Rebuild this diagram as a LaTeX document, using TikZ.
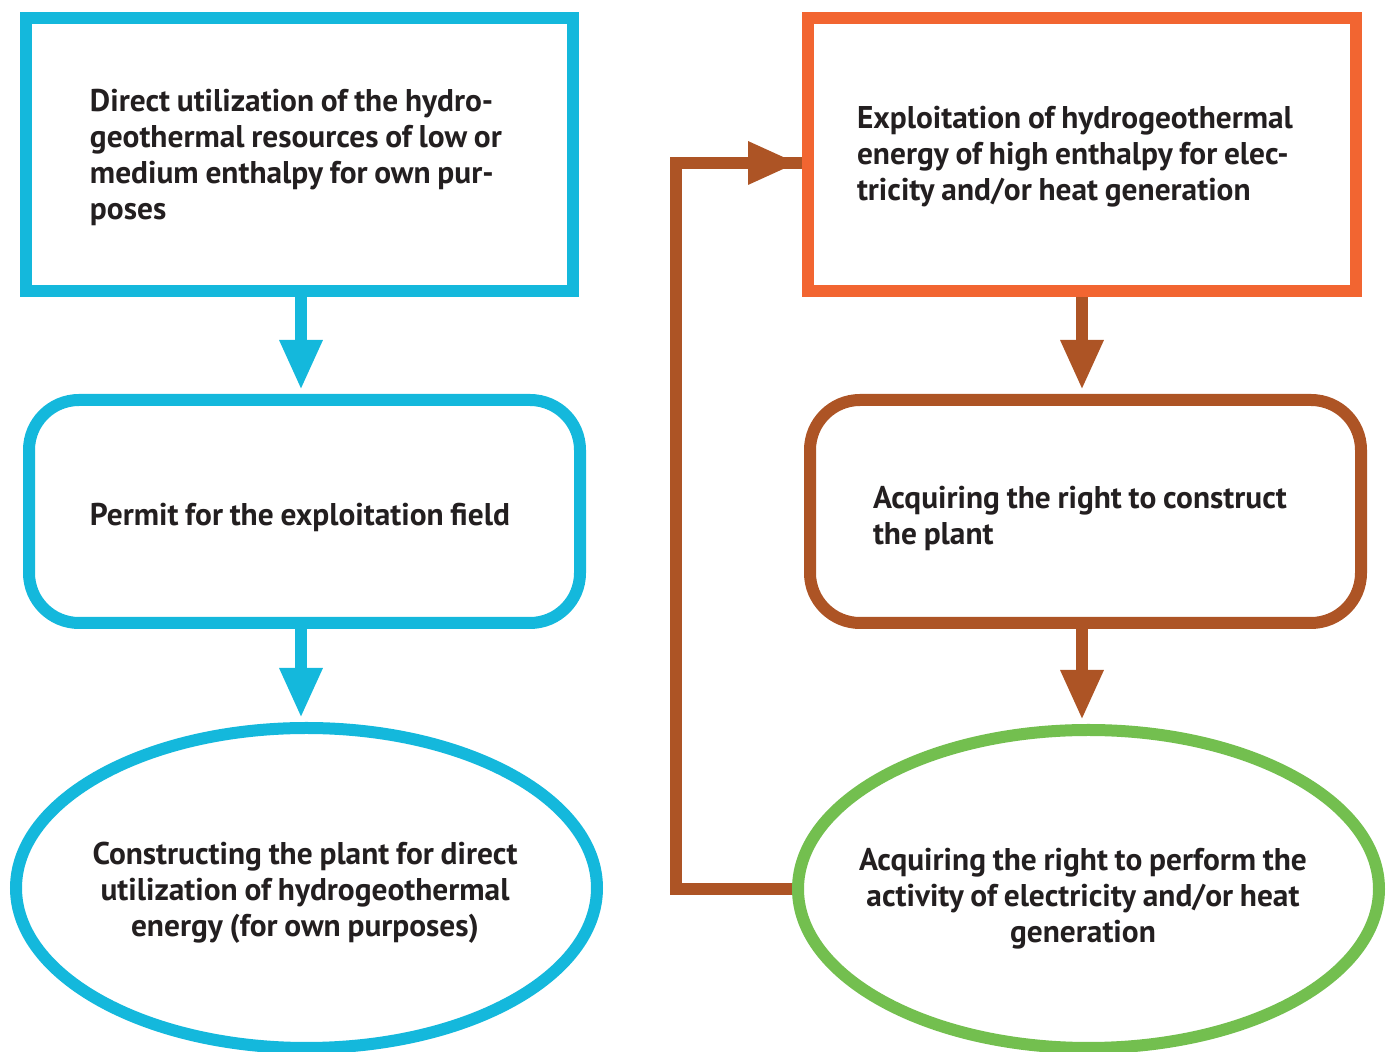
\documentclass[tikz,border=0pt]{standalone}
\usepackage{fontspec}
\setmainfont[WordSpace=0.85]{PT Sans}
\usetikzlibrary{arrows.meta,shapes.geometric}
\definecolor{cblue}{RGB}{20,184,220}
\definecolor{corange}{RGB}{242,101,49}
\definecolor{cbrown}{RGB}{173,84,37}
\definecolor{cgreen}{RGB}{115,191,79}
\definecolor{ctext}{RGB}{35,31,32}
\begin{document}
\begin{tikzpicture}[x=0.5pt,y=-0.5pt,
  box/.style={draw,line width=6pt,line join=miter,inner sep=0pt,fill=white},
  rbox/.style={box,rounded corners=25pt},
  oval/.style={draw,line width=6pt,ellipse,inner sep=0pt,fill=white},
  txt/.style={text=ctext,font=\bfseries\fontsize{15.7pt}{18pt}\selectfont,inner sep=0pt},
  flow/.style={line width=6pt,-{Triangle[length=25pt,width=20pt]},shorten >=2pt},
  fb/.style={draw=cbrown,line width=6pt,line join=miter}]
\useasboundingbox (0,0) rectangle (1389,1052);
% left column
\node[box,draw=cblue,minimum width=273.5pt,minimum height=136.5pt] (b1) at (299.5,154.5) {};
\node[txt,text width=219.5pt,align=flush left] (t1) at (309.5,157) {Direct utilization of the hydro-\\geothermal resources of low or\\medium enthalpy for own pur-\\poses};
\node[rbox,draw=cblue,minimum width=275.5pt,minimum height=111.5pt] (b2) at (304.5,511.5) {};
\node[txt,text width=214.5pt,align=flush left] (t2) at (304.5,517) {Permit for the exploitation field};
\node[oval,draw=cblue,minimum width=290.5pt,minimum height=160pt] (e1) at (306.5,888) {};
\node[txt,align=center] (t3) at (305,893) {Constructing the plant for direct\\utilization of hydrogeothermal\\energy (for own purposes)};
% right column
\node[box,draw=corange,minimum width=274pt,minimum height=136.5pt] (b3) at (1082,154.5) {};
\node[txt,text width=225pt,align=flush left] (t4) at (1082,157) {Exploitation of hydrogeothermal\\energy of high enthalpy for elec-\\tricity and/or heat generation};
\node[rbox,draw=cbrown,minimum width=275.5pt,minimum height=111.5pt] (b4) at (1085.5,511.5) {};
\node[txt,text width=212.5pt,align=flush left] (t5) at (1085.5,518) {Acquiring the right to construct\\the plant};
\node[oval,draw=cgreen,minimum width=290.5pt,minimum height=159pt] (e2) at (1088.5,889) {};
\node[txt,align=center] (t6) at (1083,899) {Acquiring the right to perform the\\activity of electricity and/or heat\\generation};
% arrows
\coordinate (la) at (301,0);
\coordinate (ra) at (1082,0);
\draw[flow,draw=cblue,fill=cblue] (la |- b1.south) -- (la |- b2.north);
\draw[flow,draw=cblue,fill=cblue] (la |- b2.south) -- (la |- e1.north);
\draw[flow,draw=cbrown,fill=cbrown] (ra |- b3.south) -- (ra |- b4.north);
\draw[flow,draw=cbrown,fill=cbrown] (ra |- b4.south) -- (ra |- e2.north);
\coordinate (f1) at (676,889);
\coordinate (f2) at (676,163);
\draw[fb] (e2.west) -- (f1) -- (f2) -- (b3.west |- f2);
\draw[flow,draw=cbrown,fill=cbrown] (f2) -- (b3.west |- f2);
\end{tikzpicture}
\end{document}
